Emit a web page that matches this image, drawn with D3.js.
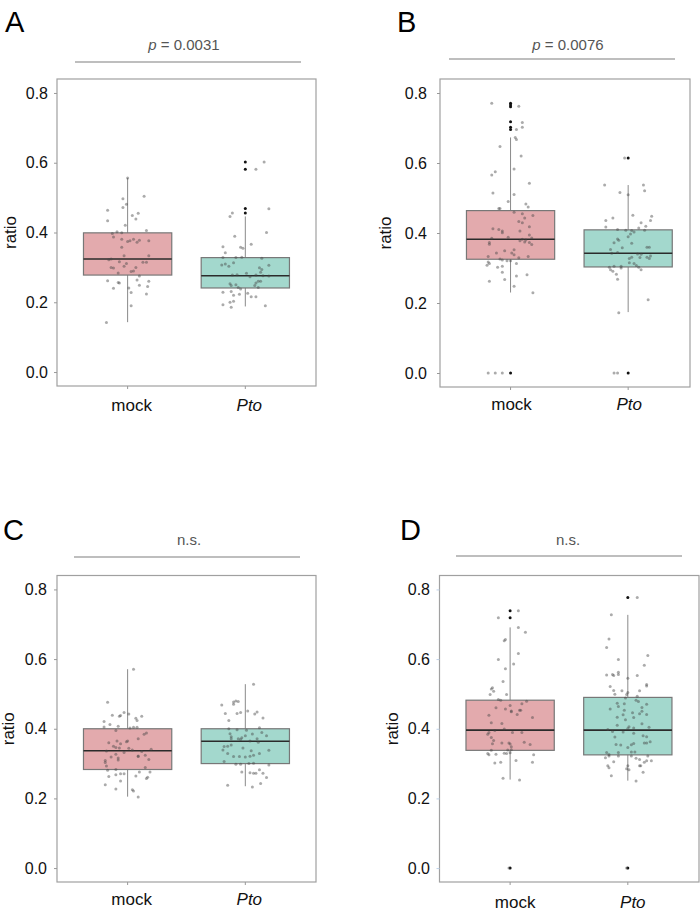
<!DOCTYPE html>
<html><head><meta charset="utf-8">
<script src="https://cdn.jsdelivr.net/npm/d3@7"></script>
<style>body{margin:0;background:#fff;}svg{display:block;font-family:"Liberation Sans",Arial,sans-serif;}</style>
</head><body><svg id="chart" width="700" height="919"></svg>
<script>
// ---------- DATA ----------
const categories = ["mock", "Pto"];
const yTicks = [0.0, 0.2, 0.4, 0.6, 0.8];
const panelLetters = ["A", "B", "C", "D"];
const pLabels = ["p = 0.0031", "p = 0.0076", "n.s.", "n.s."];

// box stats: [whisker low, Q1, median, Q3, whisker high]
const A_mock_box = [0.143, 0.278, 0.324, 0.399, 0.556];
const A_pto_box  = [0.188, 0.241, 0.276, 0.328, 0.446];
const B_mock_box = [0.230, 0.325, 0.382, 0.464, 0.673];
const B_pto_box  = [0.174, 0.303, 0.342, 0.409, 0.537];
const C_mock_box = [0.205, 0.283, 0.337, 0.400, 0.571];
const C_pto_box  = [0.235, 0.300, 0.364, 0.400, 0.528];
const D_mock_box = [0.254, 0.338, 0.396, 0.482, 0.691];
const D_pto_box  = [0.251, 0.325, 0.396, 0.490, 0.727];

// outliers
const A_mock_out = [];
const A_pto_out  = [0.602, 0.581, 0.469, 0.456];
const B_mock_out = [0.771, 0.766, 0.761, 0.718, 0.702, 0.696, 0.0];
const B_pto_out  = [0.614, 0.0];
const C_mock_out = [];
const C_pto_out  = [];
const D_mock_out = [0.739, 0.719, 0.0];
const D_pto_out  = [0.777, 0.0];

// jittered points: [value, jitter (fraction of category spacing)]
const A_mock_pts = [[0.556,0],[0.504,0.14],[0.497,-0.04],[0.481,-0.01],[0.472,-0.04],[0.464,-0.17],[0.455,0.09],[0.449,0.04],[0.439,0.07],[0.434,-0.17],[0.421,-0.02],[0.406,0.16],[0.397,-0.13],[0.402,-0.09],[0.399,-0.05],[0.387,-0.12],[0.381,-0.05],[0.374,0],[0.376,0.02],[0.381,0.05],[0.372,0.08],[0.378,0.10],[0.376,0.18],[0.358,-0.05],[0.333,-0.03],[0.333,0.18],[0.322,-0.16],[0.324,-0.14],[0.316,-0.07],[0.315,0.16],[0.315,0.13],[0.311,-0.01],[0.303,-0.03],[0.300,-0.14],[0.298,-0.12],[0.300,0.07],[0.284,-0.08],[0.288,0.03],[0.290,0.05],[0.275,0.10],[0.262,-0.17],[0.257,-0.08],[0.255,-0.07],[0.264,0.08],[0.260,0.18],[0.240,-0.12],[0.241,0.01],[0.249,0.10],[0.245,0.17],[0.228,0.03],[0.224,0.16],[0.190,0.03],[0.142,-0.18]];
const A_pto_pts = [[0.602,0.16],[0.581,0.09],[0.468,0.20],[0.456,-0.11],[0.446,-0.13],[0.400,0.18],[0.389,-0.09],[0.366,0.05],[0.358,-0.04],[0.355,-0.02],[0.359,-0.19],[0.342,-0.17],[0.328,-0.19],[0.328,-0.08],[0.329,-0.03],[0.326,0.14],[0.307,-0.20],[0.310,-0.17],[0.303,-0.14],[0.313,-0.10],[0.306,0.20],[0.299,0.12],[0.294,0.14],[0.286,0.13],[0.278,-0.11],[0.279,-0.07],[0.283,0.01],[0.273,0.04],[0.276,0.15],[0.275,0.20],[0.278,0.09],[0.260,0.11],[0.260,0.13],[0.255,0.09],[0.253,-0.13],[0.248,-0.12],[0.250,-0.08],[0.242,-0.06],[0.238,-0.04],[0.248,0.08],[0.242,0.11],[0.229,-0.19],[0.231,-0.12],[0.220,-0.10],[0.223,-0.05],[0.226,0.02],[0.216,0.05],[0.216,0.09],[0.200,-0.13],[0.203,-0.10],[0.193,-0.19],[0.186,-0.12],[0.190,0.17]];
const B_mock_pts = [[0.771,-0.16],[0.762,0.07],[0.716,0.10],[0.702,0.10],[0.696,0.05],[0.673,0.04],[0.667,0.05],[0.647,-0.09],[0.620,0.09],[0.583,0.03],[0.575,-0.13],[0.566,-0.16],[0.542,0.16],[0.514,-0.15],[0.510,0.03],[0.490,-0.02],[0.470,-0.10],[0.470,-0.09],[0.483,0.13],[0.474,0.15],[0.459,0.03],[0.455,0.10],[0.450,0.19],[0.443,0.12],[0.433,0.07],[0.429,0.10],[0.418,0.16],[0.406,0.08],[0.412,-0.15],[0.410,-0.10],[0.401,-0.07],[0.406,-0.07],[0.394,0.16],[0.386,0.18],[0.388,-0.02],[0.385,-0.16],[0.382,0.10],[0.380,0.13],[0.378,0.08],[0.373,0.16],[0.373,-0.18],[0.368,-0.18],[0.367,0.18],[0.374,0.12],[0.352,0.03],[0.349,-0.05],[0.343,0.01],[0.338,0.03],[0.343,-0.12],[0.329,0.07],[0.333,0.15],[0.333,-0.19],[0.326,-0.09],[0.323,-0.07],[0.321,-0.03],[0.321,0],[0.317,-0.19],[0.313,-0.18],[0.308,-0.20],[0.302,-0.11],[0.305,-0.07],[0.313,0.05],[0.288,-0.07],[0.267,-0.05],[0.262,-0.18],[0.277,0.05],[0.281,0.14],[0.248,0.03],[0.229,0.19],[0,-0.19],[0,-0.13],[0,-0.07]];
const B_pto_pts = [[0.614,-0.03],[0.537,-0.20],[0.537,0.13],[0.521,0.14],[0.516,-0.07],[0.509,0],[0.451,0.04],[0.448,0.20],[0.443,-0.13],[0.436,-0.19],[0.436,0.19],[0.429,0.11],[0.417,-0.19],[0.419,0.15],[0.414,0.09],[0.410,-0.09],[0.408,-0.02],[0.407,0.03],[0.403,0.05],[0.397,0.02],[0.408,0.14],[0.389,0],[0.383,-0.09],[0.379,-0.08],[0.372,-0.12],[0.371,0.03],[0.358,-0.05],[0.359,0.16],[0.359,0.18],[0.353,-0.15],[0.342,-0.14],[0.344,-0.09],[0.340,0.08],[0.339,0.11],[0.330,0.10],[0.331,0.16],[0.334,0.19],[0.327,0.18],[0.331,0.03],[0.327,0.01],[0.315,0.01],[0.313,0.05],[0.307,0.07],[0.302,0.09],[0.295,0.11],[0.305,-0.12],[0.302,-0.16],[0.305,-0.06],[0.300,-0.06],[0.295,-0.15],[0.291,-0.13],[0.282,-0.10],[0.268,-0.09],[0.209,0.17],[0.172,-0.08],[0,-0.12],[0,-0.09]];
const C_mock_pts = [[0.571,0.05],[0.476,-0.17],[0.439,-0.13],[0.436,-0.07],[0.438,-0.06],[0.447,-0.03],[0.442,0.01],[0.436,0.12],[0.430,0.07],[0.424,0.08],[0.421,-0.20],[0.412,-0.15],[0.407,-0.08],[0.405,-0.20],[0.402,0.02],[0.404,0.05],[0.404,0.08],[0.395,-0.10],[0.388,0.16],[0.384,0.14],[0.371,0.09],[0.360,-0.16],[0.365,-0.09],[0.357,-0.06],[0.363,-0.01],[0.365,0],[0.350,-0.12],[0.346,-0.10],[0.345,-0.07],[0.344,0.01],[0.339,0.04],[0.341,0.20],[0.336,-0.18],[0.332,-0.03],[0.335,0.12],[0.327,-0.10],[0.322,0.09],[0.324,0.15],[0.319,-0.14],[0.316,-0.08],[0.310,-0.08],[0.320,0.09],[0.312,0.18],[0.309,-0.19],[0.303,-0.19],[0.293,-0.18],[0.289,0.15],[0.283,-0.10],[0.281,-0.17],[0.263,-0.16],[0.268,-0.10],[0.271,-0.06],[0.271,-0.03],[0.276,0.10],[0.276,0.19],[0.264,0.07],[0.261,0.17],[0.257,0.16],[0.250,-0.06],[0.239,-0.19],[0.227,-0.10],[0.225,0.04],[0.221,0.05],[0.204,0.09]];
const C_pto_pts = [[0.528,0.07],[0.477,-0.10],[0.480,-0.08],[0.478,-0.06],[0.470,-0.10],[0.468,-0.20],[0.444,-0.17],[0.444,-0.07],[0.447,-0.04],[0.451,0.02],[0.442,0.08],[0.448,0.10],[0.431,0.15],[0.424,-0.14],[0.400,-0.14],[0.397,-0.07],[0.396,0.01],[0.403,0.12],[0.389,0.14],[0.385,0.06],[0.380,0.18],[0.386,-0.13],[0.377,-0.12],[0.371,-0.12],[0.371,-0.06],[0.369,-0.04],[0.374,-0.03],[0.380,0],[0.365,0.04],[0.371,0.10],[0.349,-0.18],[0.350,-0.15],[0.353,-0.12],[0.345,-0.02],[0.339,-0.19],[0.337,0.05],[0.361,0.11],[0.338,0.20],[0.329,-0.15],[0.329,0.12],[0.320,-0.10],[0.320,-0.05],[0.319,0],[0.321,0.04],[0.324,0.07],[0.306,-0.18],[0.298,-0.08],[0.298,-0.04],[0.300,0.03],[0.301,0.07],[0.296,0.20],[0.276,-0.03],[0.274,0.04],[0.272,0.07],[0.272,0.09],[0.282,0.12],[0.272,0.15],[0.260,0.18],[0.238,-0.15],[0.233,0.06],[0.243,0.13]];
const D_mock_pts = [[0.739,0.07],[0.719,-0.10],[0.691,0.07],[0.677,0.13],[0.656,-0.04],[0.653,-0.05],[0.616,0.07],[0.599,-0.10],[0.586,0.03],[0.572,-0.04],[0.536,-0.06],[0.518,-0.15],[0.514,-0.16],[0.508,-0.14],[0.498,-0.17],[0.498,-0.03],[0.484,-0.10],[0.482,-0.08],[0.479,0.14],[0.472,0.10],[0.467,0],[0.460,-0.12],[0.457,-0.04],[0.453,0.09],[0.453,0.08],[0.451,0.01],[0.449,0.01],[0.439,-0.18],[0.441,0.06],[0.432,0.19],[0.417,-0.16],[0.415,-0.07],[0.395,-0.13],[0.399,-0.05],[0.389,0.02],[0.389,0.10],[0.389,-0.18],[0.384,-0.19],[0.375,-0.16],[0.366,-0.14],[0.359,-0.07],[0.359,-0.01],[0.356,0],[0.357,-0.15],[0.361,0.12],[0.355,0.17],[0.348,0.01],[0.339,-0.02],[0.340,0.01],[0.338,-0.16],[0.330,-0.05],[0.329,-0.03],[0.331,0],[0.329,-0.19],[0.325,-0.18],[0.327,-0.12],[0.325,0.20],[0.304,0.19],[0.302,-0.13],[0.304,-0.08],[0.309,0.05],[0.258,-0.06],[0.253,0.08],[0.0,-0.01]];
const D_pto_pts = [[0.777,0.08],[0.727,-0.14],[0.658,-0.16],[0.633,-0.18],[0.610,0.17],[0.599,-0.08],[0.582,0.14],[0.554,-0.18],[0.556,-0.13],[0.553,-0.12],[0.556,-0.08],[0.562,-0.08],[0.545,0],[0.553,0.08],[0.527,0.16],[0.523,0.16],[0.521,-0.15],[0.510,-0.12],[0.499,-0.11],[0.509,-0.05],[0.509,0.10],[0.498,-0.01],[0.504,0],[0.488,-0.02],[0.493,0.08],[0.482,0.07],[0.478,0.09],[0.473,-0.09],[0.472,-0.03],[0.470,0.16],[0.464,-0.08],[0.457,-0.15],[0.453,-0.03],[0.461,0.12],[0.450,0.12],[0.446,0.04],[0.443,0.10],[0.441,0.16],[0.440,-0.04],[0.433,-0.09],[0.432,0.05],[0.426,-0.02],[0.414,0.12],[0.410,-0.09],[0.406,0.01],[0.402,0.05],[0.404,0.18],[0.401,0],[0.398,-0.17],[0.392,-0.13],[0.391,-0.04],[0.387,0.05],[0.380,0.13],[0.377,0.16],[0.376,-0.11],[0.358,0.05],[0.354,0.03],[0.363,0.19],[0.359,0.16],[0.359,0.14],[0.355,-0.10],[0.353,-0.06],[0.346,0],[0.333,0.03],[0.332,-0.18],[0.326,-0.16],[0.332,-0.08],[0.333,0.06],[0.317,-0.19],[0.322,-0.16],[0.322,-0.08],[0.322,0.03],[0.322,0.17],[0.315,0.07],[0.312,0.10],[0.305,-0.12],[0.304,0.14],[0.308,0.16],[0.308,0.20],[0.294,0],[0.294,-0.17],[0.288,-0.16],[0.294,0.10],[0.294,0.11],[0.285,-0.01],[0.282,0.01],[0.275,0.13],[0.265,-0.14],[0.250,0.07],[0.0,-0.01]];

const panelData = [
  {box:[A_mock_box, A_pto_box], out:[A_mock_out, A_pto_out], pts:[A_mock_pts, A_pto_pts]},
  {box:[B_mock_box, B_pto_box], out:[B_mock_out, B_pto_out], pts:[B_mock_pts, B_pto_pts]},
  {box:[C_mock_box, C_pto_box], out:[C_mock_out, C_pto_out], pts:[C_mock_pts, C_pto_pts]},
  {box:[D_mock_box, D_pto_box], out:[D_mock_out, D_pto_out], pts:[D_mock_pts, D_pto_pts]}
];

// ---------- LAYOUT ----------
const layout = [
  {left:57,  right:316, top:79,  bottom:386, unit:117.7, letterX:5,   letterY:32,  sigY:62,  sigX0:75,  sigX1:301, sigTextX:184, sigTextY:50,  tickX:48,  ratioX:10,  xLabY:411, xLabDx:4, tickCol:"#999"},
  {left:440, right:690, top:79,  bottom:387, unit:117.6, letterX:397, letterY:32,  sigY:59,  sigX0:449, sigX1:675, sigTextX:568, sigTextY:50,  tickX:427, ratioX:385, xLabY:410, xLabDx:1, tickCol:"#999"},
  {left:57,  right:316, top:575.5, bottom:882, unit:117.7, letterX:3, letterY:540, sigY:557, sigX0:74,  sigX1:300, sigTextX:189, sigTextY:545, tickX:47,  ratioX:8,   xLabY:905, xLabDx:4, tickCol:"#999"},
  {left:439.5, right:699, top:575.5, bottom:882, unit:117.7, letterX:400, letterY:540, sigY:556, sigX0:456, sigX1:682, sigTextX:568, sigTextY:545, tickX:430, ratioX:392, xLabY:908, xLabDx:5, tickCol:"#bcd0e8"}
];

const fills = ["#E3AAAD", "#A3D8CD"];
const svg = d3.select("#chart");

layout.forEach((L, pi) => {
  const D = panelData[pi];
  const g = svg.append("g");
  const y = d3.scaleLinear().domain([-0.04, 0.84]).range([L.bottom, L.top]);
  const x = d3.scaleLinear().domain([0.4, 2.6]).range([L.left, L.left + 2.2 * L.unit]);
  const cx = i => x(i + 1);
  const bw = 0.75 * L.unit;

  // frame
  g.append("rect").attr("x", L.left).attr("y", L.top)
    .attr("width", L.right - L.left).attr("height", L.bottom - L.top)
    .attr("fill", "none").attr("stroke", "#a0a0a0").attr("stroke-width", 1.2);

  // y axis
  const yAxis = d3.axisLeft(y).tickValues(yTicks).tickFormat(d3.format(".1f")).tickSize(3).tickPadding(5);
  const ya = g.append("g").attr("transform", `translate(${L.left},0)`).call(yAxis);
  ya.select(".domain").remove();
  ya.selectAll(".tick line").attr("stroke", L.tickCol);
  ya.selectAll(".tick text").attr("font-size", 16).attr("fill", "#111")
    .attr("font-family", "Liberation Sans, Arial, sans-serif")
    .attr("x", L.tickX - L.left).attr("text-anchor", "end");

  // x axis ticks + labels
  const xa = g.append("g").attr("transform", `translate(0,${L.bottom})`);
  categories.forEach((c, i) => {
    xa.append("line").attr("x1", cx(i)).attr("x2", cx(i)).attr("y1", 0).attr("y2", 3).attr("stroke", "#999");
    xa.append("text").attr("x", cx(i) + L.xLabDx).attr("y", L.xLabY - L.bottom)
      .attr("text-anchor", "middle").attr("font-size", 17).attr("fill", "#111")
      .attr("font-style", i === 1 ? "italic" : "normal").text(c);
  });

  // y label
  g.append("text").attr("transform", `translate(${L.ratioX + 6},${(L.top + L.bottom) / 2}) rotate(-90)`)
    .attr("text-anchor", "middle").attr("font-size", 17).attr("fill", "#111").text("ratio");

  // boxes
  categories.forEach((c, i) => {
    const b = D.box[i];
    g.append("line").attr("x1", cx(i)).attr("x2", cx(i)).attr("y1", y(b[0])).attr("y2", y(b[4]))
      .attr("stroke", "#8a8a8a").attr("stroke-width", 1);
    g.append("rect").attr("x", cx(i) - bw / 2).attr("width", bw)
      .attr("y", y(b[3])).attr("height", y(b[1]) - y(b[3]))
      .attr("fill", fills[i]).attr("stroke", "#777").attr("stroke-width", 1.2);
    g.append("line").attr("x1", cx(i) - bw / 2).attr("x2", cx(i) + bw / 2)
      .attr("y1", y(b[2])).attr("y2", y(b[2])).attr("stroke", "#2b2b2b").attr("stroke-width", 1.6);
    // outliers
    g.selectAll(null).data(D.out[i]).enter().append("circle")
      .attr("cx", cx(i)).attr("cy", d => y(d)).attr("r", 1.5).attr("fill", "#111");
    // jitter points
    g.selectAll(null).data(D.pts[i]).enter().append("circle")
      .attr("cx", d => x(i + 1 + d[1])).attr("cy", d => y(d[0])).attr("r", 1.5)
      .attr("fill", "#444").attr("fill-opacity", 0.45);
  });

  // significance bar
  g.append("line").attr("x1", L.sigX0).attr("x2", L.sigX1).attr("y1", L.sigY).attr("y2", L.sigY)
    .attr("stroke", "#a8a8a8").attr("stroke-width", 1.4);
  const t = g.append("text").attr("x", L.sigTextX).attr("y", L.sigTextY)
    .attr("text-anchor", "middle").attr("font-size", 15).attr("fill", "#555");
  const lab = pLabels[pi];
  if (lab.startsWith("p ")) {
    t.append("tspan").attr("font-style", "italic").text("p");
    t.append("tspan").text(lab.slice(1));
  } else t.text(lab);

  // panel letter
  g.append("text").attr("x", L.letterX).attr("y", L.letterY).attr("font-size", 29)
    .attr("fill", "#000").text(panelLetters[pi]);
});
</script></body></html>
